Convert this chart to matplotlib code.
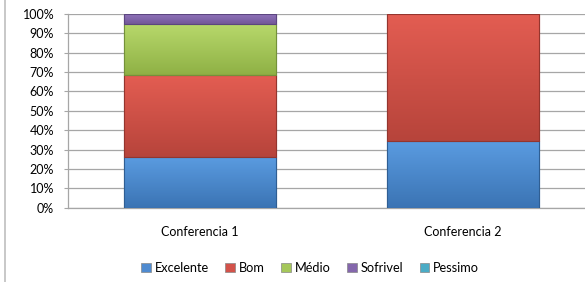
import matplotlib
matplotlib.use("Agg")
import matplotlib.pyplot as plt
import numpy as np
from matplotlib.colors import LinearSegmentedColormap
from matplotlib.patches import Patch
from matplotlib.lines import Line2D

categories = ["Conferencia 1", "Conferencia 2"]
series_names = ["Excelente", "Bom", "Médio", "Sofrivel", "Pessimo"]
excelente = [26.3, 34.4]
bom = [42.1, 65.6]
medio = [26.3, 0.0]
sofrivel = [5.3, 0.0]
pessimo = [0.0, 0.0]
yticks = [0, 10, 20, 30, 40, 50, 60, 70, 80, 90, 100]

series = [excelente, bom, medio, sofrivel, pessimo]
# (top colour, bottom colour, edge colour)
palette = [
    ("#5A9BE0", "#3B74B4", "#2F5E93"),
    ("#E35D52", "#B7443B", "#94352E"),
    ("#B7D86B", "#8FB145", "#74913A"),
    ("#9276BD", "#73589A", "#5C4680"),
    ("#55BCD6", "#3A98B2", "#2F7D92"),
]
legend_colors = ["#4F8BD0", "#D3524A", "#A5C75A", "#8467AC", "#4BACC6"]

plt.rcParams['font.family'] = ['Lato', 'DejaVu Sans']

fig = plt.figure(figsize=(5.85, 2.82), dpi=100)
ax = fig.add_axes([68/585, (282-207.7)/282, 1 - 68/585, 193.7/282])

x = np.arange(len(categories))
width = 0.578
bottom = np.zeros(len(categories))
for vals, (ctop, cbot, cedge) in zip(series, palette):
    vals = np.array(vals)
    bars = ax.bar(x, vals, width, bottom=bottom, color=cbot, edgecolor=cedge,
                  linewidth=0.8, zorder=3)
    cmap = LinearSegmentedColormap.from_list("g", [cbot, ctop])
    for b, v, bt in zip(bars, vals, bottom):
        if v <= 0:
            continue
        grad = np.linspace(0, 1, 64).reshape(-1, 1)
        im = ax.imshow(grad, cmap=cmap, origin="lower", aspect="auto",
                       extent=[b.get_x(), b.get_x() + b.get_width(), bt, bt + v],
                       zorder=3.5)
        im.set_clip_path(b)
        ax.add_patch(plt.Rectangle((b.get_x(), bt), b.get_width(), v, fill=False,
                                   edgecolor=cedge, linewidth=0.8, zorder=4))
    bottom = bottom + vals

ax.set_xlim(-0.5, (585 - 200) / 263)
ax.set_ylim(0, 100)
ax.set_yticks(yticks)
ax.set_yticklabels([f"{t}%" for t in yticks])
ax.set_xticks(x)
ax.set_xticklabels(categories)
ax.yaxis.grid(True, color="#A6A6A6", linewidth=0.9, zorder=0)
ax.set_axisbelow(True)
for s in ["top", "right"]:
    ax.spines[s].set_visible(False)
for s in ["left", "bottom"]:
    ax.spines[s].set_color("#A6A6A6")
    ax.spines[s].set_linewidth(0.9)
ax.tick_params(axis="y", length=3, color="#A6A6A6", labelsize=9, pad=7)
ax.tick_params(axis="x", length=0, labelsize=9, pad=13)

handles = [Patch(facecolor=c, edgecolor="#888888", linewidth=0.5) for c in legend_colors]
fig.legend(handles, series_names, loc="center", bbox_to_anchor=(310 / 585, (282 - 268) / 282),
           ncol=5, frameon=False, fontsize=9.2, handlelength=0.75, handleheight=0.75,
           handletextpad=0.3, columnspacing=1.3)

fig.add_artist(Line2D([4.5/585, 4.5/585], [0, 1], color="#BFBFBF", linewidth=1.2))

fig.savefig("out.png", dpi=100)
